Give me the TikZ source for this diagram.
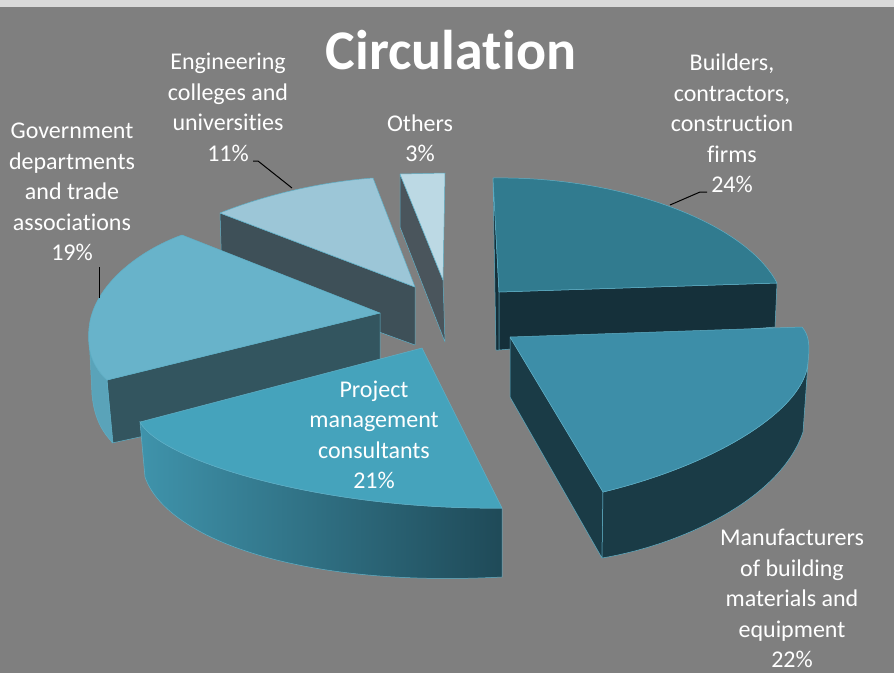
\documentclass[tikz,border=0pt]{standalone}
\usepackage{fontspec}
\setmainfont{Carlito}[RawFeature={-liga}]
\definecolor{bggray}{HTML}{7F7F7F}
\definecolor{strip}{HTML}{D9D9D9}
\definecolor{othtop}{HTML}{BCD9E4}
\definecolor{othside}{HTML}{4A555C}
\definecolor{engtop}{HTML}{9CC6D7}
\definecolor{engside}{HTML}{3E5058}
\definecolor{buitop}{HTML}{317B8F}
\definecolor{buiside}{HTML}{15303A}
\definecolor{govtop}{HTML}{68B3CA}
\definecolor{govside}{HTML}{33555F}
\definecolor{govout}{HTML}{5AA3B9}
\definecolor{mantop}{HTML}{3D8EA8}
\definecolor{manside}{HTML}{1A3B46}
\definecolor{protop}{HTML}{45A3BC}
\definecolor{proleft}{HTML}{3F93AB}
\definecolor{proright}{HTML}{1F4A58}
\definecolor{rim}{HTML}{5FAFC6}
\begin{document}
\begin{tikzpicture}[x=1pt,y=-1pt,
  lbl/.style={text=white, font=\fontsize{24}{30.5}\selectfont, align=center, inner sep=0pt},
  ttl/.style={text=white, font=\fontsize{56}{60}\selectfont\bfseries, inner sep=0pt},
  face/.style={draw=rim, line width=0.5pt, line join=round},
  leader/.style={draw=black, line width=1pt}]
\fill[bggray] (0,0) rectangle (894,673);
\fill[strip] (0,0) rectangle (894,7);
\useasboundingbox (0,0) rectangle (894,673);

% Others
\fill[othside, face] (400,174) -- (443,280) -- (445,342) -- (400,227) -- cycle;
\fill[othtop, face] (400,174) -- (445,173) -- (443,280) -- cycle;

% Engineering
\fill[engside, face] (220,213) -- (415,287) -- (415,345) -- (222,275) -- cycle;
\fill[engtop, face] (220,213) .. controls (265,195) and (320,182) .. (373,178) -- (415,287) -- cycle;
\coordinate (engpt) at (292,188);

% Builders
\fill[buiside, face] (493,178) -- (499,292) -- (499,350) -- (496,350) -- cycle;
\fill[buiside, face] (499,292) -- (777,283) -- (775,327) -- (499,350) -- cycle;
\fill[buitop, face] (493,178) .. controls (620,176) and (745,222) .. (777,283) -- (499,292) -- cycle;
\coordinate (buipt) at (670,205);

% Government
\fill[govside, face] (107,380) -- (380,313) -- (380,385) -- (112,443) -- cycle;
\fill[govout, face] (89,335) .. controls (91,360) and (98,373) .. (107,380) -- (113,443) .. controls (100,430) and (94,415) .. (92,395) -- cycle;
\fill[govtop, face] (182,235) -- (380,313) -- (107,380) .. controls (92,366) and (87,350) .. (89,328) .. controls (93,285) and (140,250) .. (182,235) -- cycle;
\coordinate (govpt) at (99,298);

% Manufacturers
\fill[manside, face] (510,337) -- (603,492) -- (602,558) -- (510,397) -- cycle;
\fill[manside, face] (808,362) .. controls (805,410) and (715,465) .. (603,492) -- (602,558) .. controls (680,545) and (780,500) .. (803,432) -- cycle;
\fill[mantop, face] (510,337) -- (802,327) .. controls (809,335) and (810,345) .. (808,362) .. controls (805,410) and (715,465) .. (603,492) -- cycle;

% Project management
\shade[left color=proleft, right color=proright, draw=rim, line width=0.5pt] (140,422) .. controls (160,460) and (320,510) .. (502,508) -- (502,577) .. controls (290,588) and (165,535) .. (145,477) -- cycle;
\fill[protop, face] (140,422) -- (422,348) -- (502,508) .. controls (320,510) and (160,460) .. (140,422) -- cycle;

% Labels
\node[ttl] (title) at (451,50) {Circulation};
\node[lbl] (govlbl) at (72,192) {Government\\departments\\and trade\\associations\\19\%};
\node[lbl] (englbl) at (228,107.5) {Engineering\\colleges and\\universities\\11\%};
\node[lbl] (othlbl) at (420,138.5) {Others\\3\%};
\node[lbl] (builbl) at (732,123.5) {Builders,\\contractors,\\construction\\firms\\24\%};
\node[lbl] (manlbl) at (792,598.5) {Manufacturers\\of building\\materials and\\equipment\\22\%};
\node[lbl] (prolbl) at (374,435) {Project\\management\\consultants\\21\%};

% Leader lines
\coordinate (buiend) at (707,192);
\coordinate (engend) at (253,161);
\coordinate (govend) at (99,267);
\draw[leader] (buipt) -- (700,192) -- (buiend);
\draw[leader] (engpt) -- (258,161) -- (engend);
\draw[leader] (govpt) -- (govend);
\end{tikzpicture}
\end{document}
